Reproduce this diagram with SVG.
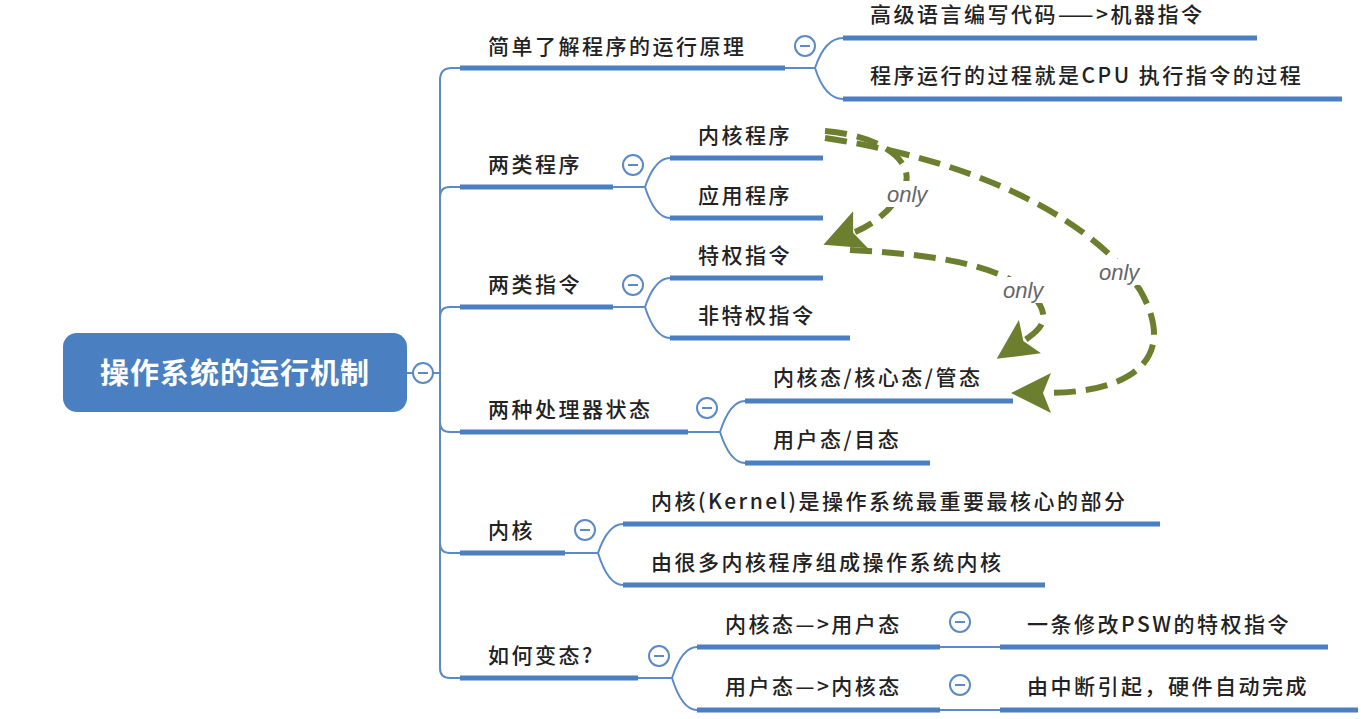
<svg xmlns="http://www.w3.org/2000/svg" width="1364" height="719" viewBox="0 0 1364 719">
<style>
.t{font-family:"Noto Sans CJK SC","Liberation Sans",sans-serif;font-size:21px;letter-spacing:2.5px;fill:#222;font-weight:500}
.u{stroke:#4a7fc1;stroke-width:5;fill:none}
.c{stroke:#5b8ac6;stroke-width:2;fill:none}
.o{fill:#fff;stroke:#5b8ac6;stroke-width:2}
.m{stroke:#5b8ac6;stroke-width:2}
.a{stroke:#6b7f2e;stroke-width:6;fill:none;stroke-dasharray:22 10}
.l{font-family:"Liberation Sans",sans-serif;font-style:italic;font-size:22px;fill:#666}
.lb{fill:#fff}
</style>
<defs>
<marker id="ah" markerUnits="userSpaceOnUse" markerWidth="44" markerHeight="44" refX="6" refY="20" orient="auto"><path d="M40,20 L0,0 L8,20 L0,40 Z" fill="#6b7f2e"/></marker>
<g id="col"><circle r="10" class="o"/><line x1="-5" y1="0" x2="5" y2="0" class="m"/></g>
</defs>
<rect width="1364" height="719" fill="#fff"/>
<g id="connectors">
<path class="c" d="M407,373 H440 M440,80 V668 Q440,678 450,678 H460 M440,80 Q440,68 452,68 H460 M440,197 Q440,187 450,187 H460 M440,317 Q440,307 450,307 H460 M440,422 Q440,432 450,432 H460 M440,543 Q440,553 450,553 H460"/>
<path class="c" d="M785,68 H815 M815,68 Q825,38 843,38 M815,68 Q825,99 843,99"/>
<path class="c" d="M613,187 H645 M645,187 Q655,158 670,158 M645,187 Q655,218 670,218"/>
<path class="c" d="M613,307 H645 M645,307 Q655,278 670,278 M645,307 Q655,338 670,338"/>
<path class="c" d="M688,432 H720 M720,432 Q730,401 745,401 M720,432 Q730,463 745,463"/>
<path class="c" d="M565,553 H598 M598,553 Q608,524 623,524 M598,553 Q608,585 623,585"/>
<path class="c" d="M638,678 H672 M672,678 Q682,647 697,647 M672,678 Q682,710 697,710"/>
<path class="c" d="M940,647 H1000 M940,710 H1000"/>
<path class="a" d="M825,131 C885,136 920,165 902,192 C888,214 870,226 855,232" marker-end="url(#ah)"/>
<path class="a" d="M825,138 C1000,165 1100,230 1140,290 C1180,360 1130,393 1045,393" marker-end="url(#ah)"/>
<path class="a" d="M850,250 C950,255 1000,268 1030,292 C1055,318 1040,330 1025,340" marker-end="url(#ah)"/>
</g>
<rect class="lb" x="885" y="181" width="50" height="26"/>
<rect class="lb" x="1097" y="259" width="52" height="26"/>
<rect class="lb" x="1001" y="277" width="52" height="26"/>
<text class="l" x="887" y="202">only</text>
<text class="l" x="1099" y="280">only</text>
<text class="l" x="1003" y="298">only</text>
<g id="root"><rect x="63" y="333" width="344" height="79" rx="14" fill="#4a7fc1"/><text x="235" y="384" text-anchor="middle" style="font-family:'Noto Sans CJK SC',sans-serif;font-size:29px;letter-spacing:1px;font-weight:700;fill:#fff">操作系统的运行机制</text><use href="#col" x="423" y="373"/></g>
<g id="n1"><text class="t" x="488" y="54">简单了解程序的运行原理</text><path class="u" d="M460,68H785"/><use href="#col" x="805" y="46"/></g>
<g id="n1a"><text class="t" x="870" y="22">高级语言编写代码——&gt;机器指令</text><path class="u" d="M843,38H1257"/></g>
<g id="n1b"><text class="t" x="870" y="83">程序运行的过程就是CPU 执行指令的过程</text><path class="u" d="M843,99H1342"/></g>
<g id="n2"><text class="t" x="488" y="172">两类程序</text><path class="u" d="M460,187H613"/><use href="#col" x="633" y="165"/></g>
<g id="n2a"><text class="t" x="698" y="143">内核程序</text><path class="u" d="M670,158H823"/></g>
<g id="n2b"><text class="t" x="698" y="203">应用程序</text><path class="u" d="M670,218H823"/></g>
<g id="n3"><text class="t" x="488" y="292">两类指令</text><path class="u" d="M460,307H613"/><use href="#col" x="633" y="285"/></g>
<g id="n3a"><text class="t" x="698" y="263">特权指令</text><path class="u" d="M670,278H823"/></g>
<g id="n3b"><text class="t" x="698" y="323">非特权指令</text><path class="u" d="M670,338H850"/></g>
<g id="n4"><text class="t" x="488" y="417">两种处理器状态</text><path class="u" d="M460,432H688"/><use href="#col" x="707" y="408"/></g>
<g id="n4a"><text class="t" x="773" y="385">内核态/核心态/管态</text><path class="u" d="M745,401H1013"/></g>
<g id="n4b"><text class="t" x="773" y="447">用户态/目态</text><path class="u" d="M745,463H930"/></g>
<g id="n5"><text class="t" x="488" y="538">内核</text><path class="u" d="M460,553H565"/><use href="#col" x="585" y="530"/></g>
<g id="n5a"><text class="t" x="651" y="509">内核(Kernel)是操作系统最重要最核心的部分</text><path class="u" d="M623,524H1160"/></g>
<g id="n5b"><text class="t" x="651" y="570">由很多内核程序组成操作系统内核</text><path class="u" d="M623,585H1045"/></g>
<g id="n6"><text class="t" x="488" y="663">如何变态?</text><path class="u" d="M460,678H638"/><use href="#col" x="659" y="656"/></g>
<g id="n6a"><text class="t" x="725" y="632">内核态—&gt;用户态</text><path class="u" d="M697,647H940"/><use href="#col" x="960" y="622"/></g>
<g id="n6a1"><text class="t" x="1027" y="632">一条修改PSW的特权指令</text><path class="u" d="M1000,647H1328"/></g>
<g id="n6b"><text class="t" x="725" y="694">用户态—&gt;内核态</text><path class="u" d="M697,710H940"/><use href="#col" x="960" y="685"/></g>
<g id="n6b1"><text class="t" x="1027" y="694">由中断引起，硬件自动完成</text><path class="u" d="M1000,710H1358"/></g>
</svg>
